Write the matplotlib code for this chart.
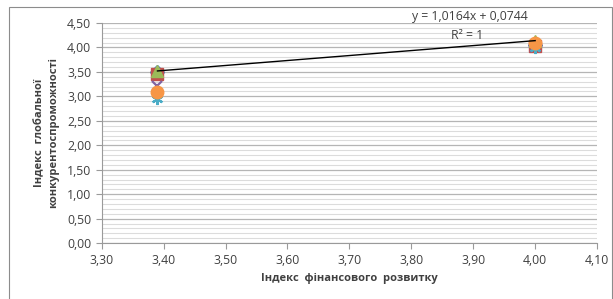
import matplotlib.pyplot as plt
from matplotlib.patches import Rectangle
from matplotlib.ticker import MultipleLocator, FuncFormatter
import numpy as np

# data
x_fin = [3.39, 4.00]
s_blue = [3.49, 4.05]
s_red = [3.45, 4.02]
s_green = [3.52, 4.14]
s_purple = [3.22, 4.00]
s_cyan = [2.95, 3.98]
s_orange = [3.08, 4.10]

trend_k, trend_b = 1.0164, 0.0744

plt.rcParams['font.family'] = ['Open Sans', 'DejaVu Sans']

fig = plt.figure(figsize=(6.13, 2.99), dpi=100)
ax = fig.add_axes([0.166, 0.187, 0.808, 0.736])

# outer chart border
fig.patches.append(Rectangle((9 / 613, -0.1), 603 / 613, 1.1 - 7 / 299,
                             transform=fig.transFigure, fill=False,
                             edgecolor='#8c8c8c', linewidth=0.8))

ax.plot(x_fin, s_blue, 'D', color='#4F81BD', ms=7, ls='none')
ax.plot(x_fin, s_red, 's', color='#C0504D', ms=8, ls='none')
ax.plot(x_fin, s_green, '^', color='#9BBB59', ms=9, ls='none')
ax.plot(x_fin, s_purple, 'x', color='#8064A2', ms=7, mew=1.6, ls='none')
ax.plot(x_fin, s_cyan, marker=(6, 2, 0), color='#4BACC6', ms=8, mew=1.6, ls='none')
ax.plot(x_fin, s_orange, 'o', color='#F79646', ms=9, ls='none')

xt = np.array(x_fin)
ax.plot(xt, trend_k * xt + trend_b, color='black', lw=1)

ax.set_xlim(3.30, 4.10)
ax.set_ylim(0, 4.5)
ax.xaxis.set_major_locator(MultipleLocator(0.1))
ax.yaxis.set_major_locator(MultipleLocator(0.5))
ax.yaxis.set_minor_locator(MultipleLocator(0.1))
fmt = FuncFormatter(lambda v, p: f'{v:.2f}'.replace('.', ','))
ax.xaxis.set_major_formatter(fmt)
ax.yaxis.set_major_formatter(fmt)

ax.grid(axis='y', which='major', color='#b5b5b5', lw=0.9)
ax.grid(axis='y', which='minor', color='#dcdcdc', lw=0.8)
ax.set_axisbelow(True)

for s in ['top', 'right']:
    ax.spines[s].set_visible(False)
for s in ['left', 'bottom']:
    ax.spines[s].set_color('#9a9a9a')
ax.tick_params(which='major', direction='out', length=4, color='#9a9a9a',
               labelsize=8.8, labelcolor='#404040')
ax.tick_params(axis='y', which='minor', length=0)

ax.set_xlabel('Індекс  фінансового  розвитку', fontsize=8, fontweight='bold',
              color='#404040', labelpad=5)
ax.set_ylabel('Індекс  глобальної\nконкурентоспроможності', fontsize=8,
              fontweight='bold', color='#404040', labelpad=6, linespacing=1.3)

ax.text(3.895, 4.63, 'y = 1,0164x + 0,0744', fontsize=8.8, color='#404040',
        ha='center', va='center', clip_on=False)
ax.text(3.89, 4.25, 'R² = 1', fontsize=8.8, color='#404040',
        ha='center', va='center')

fig.savefig('out.png', dpi=100)
